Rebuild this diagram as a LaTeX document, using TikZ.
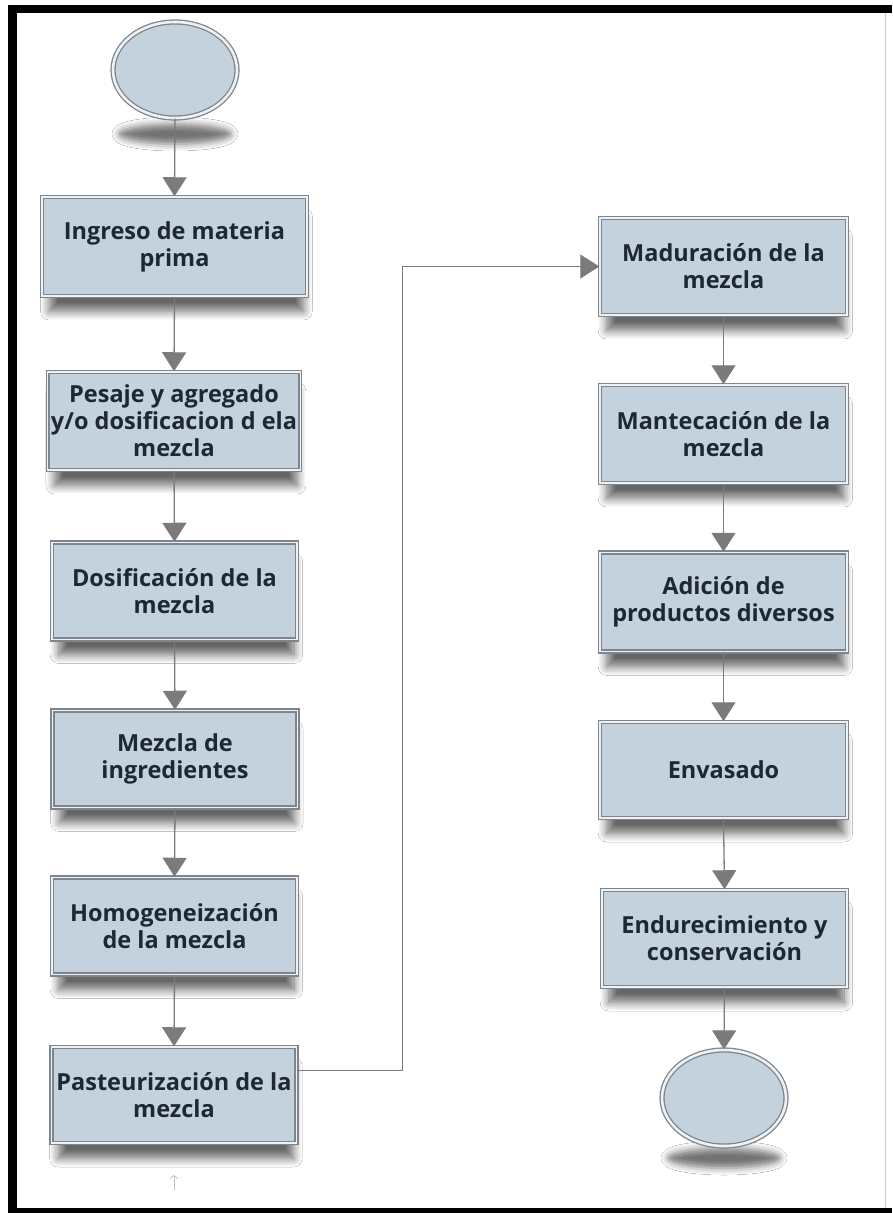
\documentclass[tikz,border=0pt]{standalone}
\usepackage{fontspec}
\setmainfont{Open Sans}
\usetikzlibrary{arrows.meta,shapes.geometric,shadows.blur,calc}
\definecolor{cajafondo}{HTML}{C4D2DD}
\definecolor{cajaborde}{HTML}{7E858C}
\definecolor{cajabrillo}{HTML}{EEF2F5}
\definecolor{flecha}{HTML}{7B7B7B}
\definecolor{letra}{HTML}{1E2833}

\begin{document}
\begin{tikzpicture}[x=1pt,y=-1pt]
  \tikzset{paso/.style={rectangle, fill=cajafondo, draw=cajaborde, line width=1.5pt,
      double=cajabrillo, double distance=1.2pt, minimum width=245pt, minimum height=97pt,
      align=center, text=letra, font=\bfseries\fontsize{23.5}{27}\selectfont,
      blur shadow={shadow xshift=2pt, shadow yshift=-18pt, shadow scale=0.96,
        shadow blur radius=9pt, shadow blur steps=10, shadow opacity=60}}}
  \tikzset{extremo/.style={ellipse, minimum width=124pt, minimum height=96pt, fill=cajafondo,
      draw=cajaborde, line width=1.3pt, double=cajabrillo, double distance=2.6pt}}
  \tikzset{sombra/.style={ellipse, minimum width=112pt, minimum height=20pt, draw=none,
      blur shadow={shadow xshift=0pt, shadow yshift=0pt, shadow blur radius=7pt, shadow opacity=55}}}
  \tikzset{flujo/.style={draw=flecha, line width=1.3pt, -{Triangle[width=24pt,length=19pt]}}}
  \tikzset{marco/.style={draw=black}}

  \useasboundingbox (0,0) rectangle (892,1213);
  \fill[white] (0,0) rectangle (892,1213);
  % marco
  \draw[marco, line width=9pt] (12.5,5) -- (12.5,1213);
  \draw[marco, line width=8pt] (8,9) -- (892,9);
  \draw[marco, line width=5pt] (8,1210.5) -- (892,1210.5);
  \draw[gray!40, line width=1pt] (885,13) -- (885,1208);

  % inicio y fin
  \node[sombra] (sombraA) at (175,134) {};
  \node[extremo] (inicio) at (175,70) {};
  \node[sombra] (sombraB) at (724,1158) {};
  \node[extremo] (fin) at (724,1098) {};

  % columna izquierda
  \node[paso, minimum width=265pt, minimum height=99pt] (ingreso) at (174.5,246.5) {Ingreso de materia\\prima};
  \node[paso, minimum width=252pt, minimum height=98pt] (pesaje) at (174,421) {Pesaje y agregado\\y/o dosificacion d ela\\mezcla};
  \node[paso] (dosificacion) at (174.5,591) {Dosificación de la\\mezcla};
  \node[paso] (mezcla) at (175,759) {Mezcla de\\ingredientes};
  \node[paso] (homog) at (174.5,926) {Homogeneización\\de la mezcla};
  \node[paso, minimum height=96pt] (pasteur) at (174,1095) {Pasteurización de la\\mezcla};

  % columna derecha
  \node[paso, minimum width=247pt] (maduracion) at (723.5,266.5) {Maduración de la\\mezcla};
  \node[paso, minimum width=247pt, minimum height=98pt] (mantecacion) at (723.5,434) {Mantecación de la\\mezcla};
  \node[paso, minimum width=247pt, minimum height=99pt] (adicion) at (723.5,602) {Adición de\\productos diversos};
  \node[paso, minimum width=247pt, minimum height=96pt] (envasado) at (723.5,770) {Envasado};
  \node[paso] (endurec) at (724.5,938.5) {Endurecimiento y\\conservación};

  \foreach \a/\b in {inicio/ingreso, ingreso/pesaje, pesaje/dosificacion, dosificacion/mezcla,
      mezcla/homog, homog/pasteur, maduracion/mantecacion, mantecacion/adicion,
      adicion/envasado, envasado/endurec, endurec/fin}
    \draw[flujo] (\a.south) -- (\b.north);

  \coordinate (codo) at (402,1070);
  \draw[flujo, line width=1pt] ($(pasteur.east)+(0,-25)$) -- (codo) |- (maduracion.west);

  % marca suelta bajo la pasteurizacion
  \coordinate (marcaA) at (174,1190);
  \coordinate (marcaB) at (174,1175);
  \draw[gray!50, line width=0.8pt, -{Straight Barb[length=3pt,width=8pt]}] (marcaA) -- (marcaB);
\end{tikzpicture}
\end{document}
